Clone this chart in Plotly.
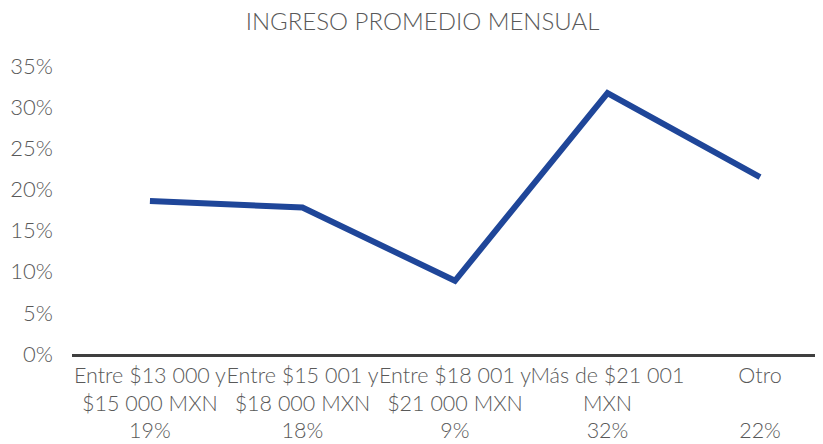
import plotly.graph_objects as go

categories = [
    "Entre $13 000 y<br>$15 000 MXN<br>19%",
    "Entre $15 001 y<br>$18 000 MXN<br>18%",
    "Entre $18 001 y<br>$21 000 MXN<br>9%",
    "Más de $21 001<br>MXN<br>32%",
    "Otro<br> <br>22%",
]
values = [0.186, 0.178, 0.089, 0.317, 0.215]
y_ticks = [0, 0.05, 0.10, 0.15, 0.20, 0.25, 0.30, 0.35]
y_tick_labels = ["0%", "5%", "10%", "15%", "20%", "25%", "30%", "35%"]

x_idx = list(range(len(categories)))

fig = go.Figure()
fig.add_trace(go.Scatter(
    x=x_idx, y=values, mode="lines",
    line=dict(color="#1F4699", width=6),
    hoverinfo="skip",
))

fig.update_layout(
    width=815, height=436,
    margin=dict(l=64, r=0, t=58, b=90, autoexpand=False),
    paper_bgcolor="white", plot_bgcolor="white",
    showlegend=False,
    font=dict(family="Lato", color="#595959", size=20, weight=300),
    title=dict(text="INGRESO PROMEDIO MENSUAL", x=0.5086, xanchor="center",
               y=0.968, yanchor="middle",
               font=dict(family="Lato", size=24, color="#595959", weight=300)),
)
fig.update_xaxes(
    tickmode="array", tickvals=x_idx, ticktext=categories,
    range=[-0.511, 4.413], automargin=False, tickangle=0,
    showgrid=False, zeroline=False,
    showline=True, linecolor="#3F3F3F", linewidth=2.5,
    ticks="", tickfont=dict(family="Lato", size=21.5, color="#595959", weight=300),
    ticklabelstandoff=0,
)
fig.update_yaxes(
    range=[0, 0.35], tickmode="array", tickvals=y_ticks, ticktext=y_tick_labels,
    automargin=False,
    showgrid=False, zeroline=False, showline=False,
    ticks="", tickfont=dict(family="Lato", size=22, color="#595959", weight=300),
    ticklabelstandoff=18,
)

fig.write_html("out.html")
